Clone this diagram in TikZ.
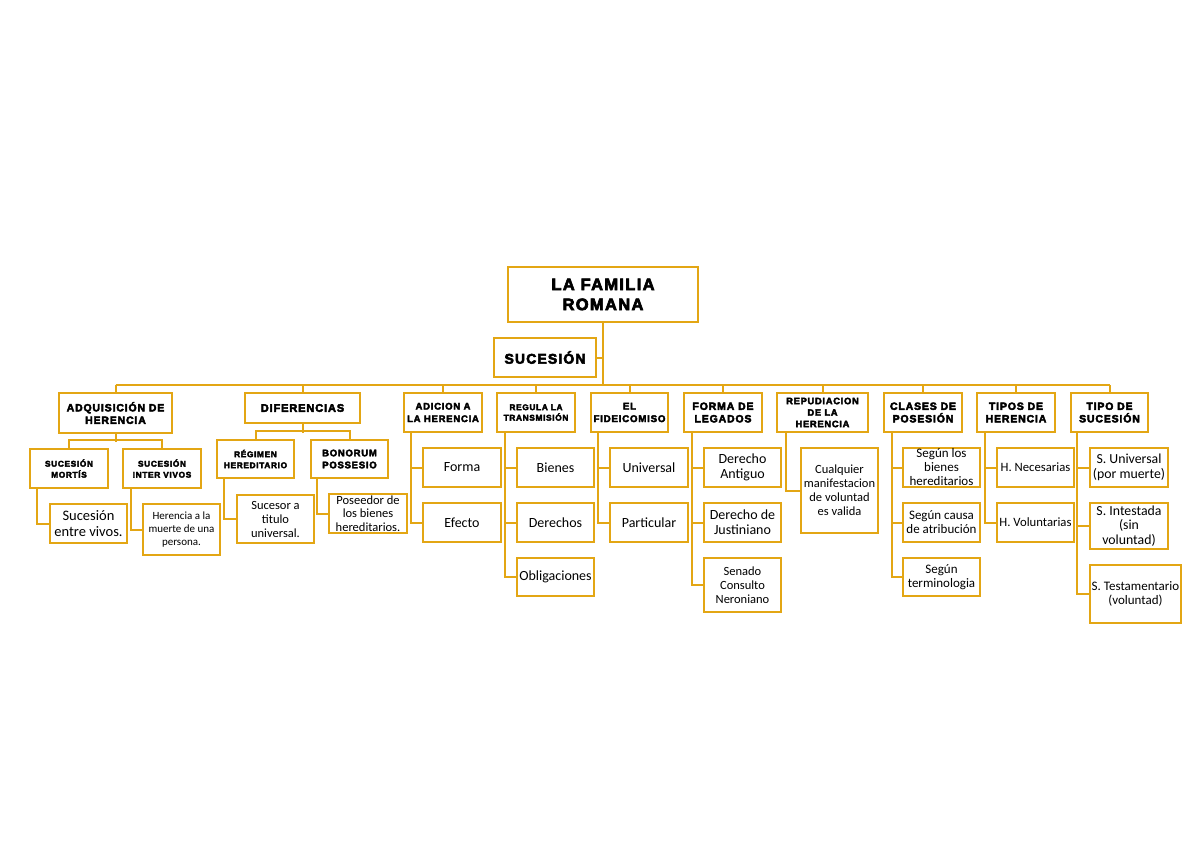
\documentclass[tikz,border=0pt]{standalone}
\usepackage{fontspec}
\setmainfont{Carlito}
\newfontfamily\hfont[LetterSpace=8, FakeBold=4]{Liberation Sans Bold}
\definecolor{gold}{RGB}{227,166,20}
\tikzset{
  box/.style={draw=gold, line width=1.8pt, fill=white, align=center, inner sep=1pt, text=black},
  hd/.style={box, font=\hfont\fontsize{10.5}{12.5}\selectfont},
  bd/.style={box, font=\fontsize{14}{15}\selectfont},
  conn/.style={draw=gold, line width=2pt},
}
\begin{document}
\begin{tikzpicture}[x=1pt,y=-1pt]
\useasboundingbox[fill=white] (0,0) rectangle (1200,849);
% level 0/1
\node[hd, font=\hfont\fontsize{16.5}{20}\selectfont, minimum width=190, minimum height=55] (top) at (603,294.5) {LA FAMILIA\\ROMANA};
\node[hd, font=\hfont\fontsize{14}{17}\selectfont, minimum width=102, minimum height=39] (suc) at (545,357.5) {SUCESIÓN};
\coordinate (bus) at (0,385);
% level 2
\node[hd, minimum width=113, minimum height=40] (adq) at (115.5,413) {ADQUISICIÓN DE\\HERENCIA};
\node[hd, font=\hfont\fontsize{11}{12.5}\selectfont, minimum width=115, minimum height=30] (dif) at (302.5,408) {DIFERENCIAS};
\node[hd, font=\hfont\fontsize{9.5}{12.5}\selectfont, minimum width=78, minimum height=39] (adi) at (443,412.5) {ADICION A\\LA HERENCIA};
\node[hd, font=\hfont\fontsize{8.3}{10.5}\selectfont, minimum width=78, minimum height=39] (reg) at (536,412.5) {REGULA LA\\TRANSMISIÓN};
\node[hd, font=\hfont\fontsize{9.7}{12.5}\selectfont, minimum width=77, minimum height=39] (fid) at (629.5,412.5) {EL\\FIDEICOMISO};
\node[hd, minimum width=78, minimum height=39] (leg) at (723,412.5) {FORMA DE\\LEGADOS};
\node[hd, font=\hfont\fontsize{9.3}{11.5}\selectfont, minimum width=91, minimum height=39] (rep) at (822.5,412.5) {REPUDIACION\\DE LA\\HERENCIA};
\node[hd, minimum width=78, minimum height=39] (cla) at (923,412.5) {CLASES DE\\POSESIÓN};
\node[hd, minimum width=78, minimum height=39] (tip) at (1016,412.5) {TIPOS DE\\HERENCIA};
\node[hd, minimum width=77, minimum height=39] (tsu) at (1109.5,412.5) {TIPO DE\\SUCESIÓN};
% level 3 - adquisicion
\node[hd, font=\hfont\fontsize{8.3}{11}\selectfont, minimum width=78, minimum height=39] (mor) at (69,468.5) {SUCESIÓN\\MORTÍS};
\node[hd, font=\hfont\fontsize{8.3}{11}\selectfont, minimum width=78, minimum height=39] (int) at (162,468.5) {SUCESIÓN\\INTER VIVOS};
\node[bd, font=\fontsize{14.5}{15.5}\selectfont, minimum width=77, minimum height=39] (env) at (88.5,523.5) {Sucesión\\entre vivos.};
\node[bd, font=\fontsize{11}{13}\selectfont, minimum width=77, minimum height=51] (hmp) at (181.5,529.5) {Herencia a la\\muerte de una\\persona.};
% diferencias
\node[hd, font=\hfont\fontsize{8.3}{11}\selectfont, minimum width=77, minimum height=38] (reh) at (255.5,459) {RÉGIMEN\\HEREDITARIO};
\node[hd, font=\hfont\fontsize{9.5}{12}\selectfont, minimum width=77, minimum height=38] (bon) at (349.5,459) {BONORUM\\POSSESIO};
\node[bd, font=\fontsize{12.5}{14}\selectfont, minimum width=77, minimum height=48] (stu) at (275.5,519) {Sucesor a\\titulo\\universal.};
\node[bd, font=\fontsize{12.5}{13.5}\selectfont, minimum width=78, minimum height=39, inner sep=0pt] (pos) at (368,513.5) {Poseedor de\\los bienes\\hereditarios.};
% adicion
\node[bd, minimum width=78, minimum height=39] (adiA) at (462,467.5) {Forma};
\node[bd, minimum width=78, minimum height=39] (adiB) at (462,522.5) {Efecto};
% regula
\node[bd, minimum width=77, minimum height=39] (regA) at (555.5,467.5) {Bienes};
\node[bd, minimum width=77, minimum height=39] (regB) at (555.5,522.5) {Derechos};
\node[bd, minimum width=77, minimum height=38, inner sep=0pt] (regC) at (555.5,577) {Obligaciones};
% fideicomiso
\node[bd, minimum width=78, minimum height=39] (fidA) at (649,467.5) {Universal};
\node[bd, minimum width=78, minimum height=39] (fidB) at (649,522.5) {Particular};
% legados
\node[bd, minimum width=77, minimum height=39] (legA) at (742.5,467.5) {Derecho\\Antiguo};
\node[bd, minimum width=77, minimum height=39] (legB) at (742.5,522.5) {Derecho de\\Justiniano};
\node[bd, font=\fontsize{12.5}{14}\selectfont, minimum width=77, minimum height=54] (legC) at (742.5,585) {Senado\\Consulto\\Neroniano};
% repudiacion
\node[bd, font=\fontsize{12.5}{14}\selectfont, minimum width=77, minimum height=85] (repA) at (839.5,490.5) {Cualquier\\manifestacion\\de voluntad\\es valida};
% clases
\node[bd, font=\fontsize{13}{14}\selectfont, minimum width=77, minimum height=39, inner sep=0pt] (claA) at (941.5,467.5) {Según los\\bienes\\hereditarios};
\node[bd, font=\fontsize{13}{14}\selectfont, minimum width=77, minimum height=39, inner sep=0pt] (claB) at (941.5,522.5) {Según causa\\de atribución};
\node[bd, font=\fontsize{13}{14}\selectfont, minimum width=77, minimum height=38] (claC) at (941.5,577) {Según\\terminologia};
% tipos de herencia
\node[bd, font=\fontsize{12.7}{14}\selectfont, minimum width=77, minimum height=39, inner sep=0pt] (tipA) at (1035.5,467.5) {H. Necesarias};
\node[bd, font=\fontsize{12.7}{14}\selectfont, minimum width=77, minimum height=39, inner sep=0pt] (tipB) at (1035.5,522.5) {H. Voluntarias};
% tipo de sucesion
\node[bd, font=\fontsize{13.8}{14.5}\selectfont, minimum width=78, minimum height=39, inner sep=0pt] (tsuA) at (1129,467.5) {S. Universal\\(por muerte)};
\node[bd, font=\fontsize{13.8}{14.5}\selectfont, minimum width=78, minimum height=46, inner sep=0pt] (tsuB) at (1129,526) {S. Intestada\\(sin\\voluntad)};
\node[bd, font=\fontsize{13}{14.5}\selectfont, minimum width=91, minimum height=58, inner sep=0pt] (tsuC) at (1135.5,594) {S. Testamentario\\(voluntad)};
% connectors
\draw[conn] (top.south) -- (top.south |- bus);
\draw[conn] (suc.east) -- (suc.east -| top.south);
\draw[conn] (adq.north |- bus) -- (tsu.north |- bus);
\foreach \n in {adq,dif,adi,reg,fid,leg,rep,cla,tip,tsu}{
  \draw[conn] (\n.north) -- (\n.north |- bus);
}
\draw[conn] (adq.south) -- ++(0,8);
\draw[conn] (mor.north) -- ++(0,-8) -| (int.north);
\draw[conn] (dif.south) -- ++(0,9);
\draw[conn] (reh.north) -- ++(0,-8) -| (bon.north);
\draw[conn] ([xshift=8]mor.south west) |- (env.west);
\draw[conn] ([xshift=9]int.south west) |- (hmp.west);
\draw[conn] ([xshift=8]reh.south west) |- (stu.west);
\draw[conn] ([xshift=7]bon.south west) |- (pos.west);
% vertical lists
\draw[conn] ([xshift=8]adi.south west) |- (adiB.west);
\draw[conn] ([xshift=8]adi.south west |- adiA.west) -- (adiA.west);
\draw[conn] ([xshift=9]reg.south west) |- (regC.west);
\draw[conn] ([xshift=9]reg.south west |- regA.west) -- (regA.west);
\draw[conn] ([xshift=9]reg.south west |- regB.west) -- (regB.west);
\draw[conn] ([xshift=8]fid.south west) |- (fidB.west);
\draw[conn] ([xshift=8]fid.south west |- fidA.west) -- (fidA.west);
\draw[conn] ([xshift=9]leg.south west) |- (legC.west);
\draw[conn] ([xshift=9]leg.south west |- legA.west) -- (legA.west);
\draw[conn] ([xshift=9]leg.south west |- legB.west) -- (legB.west);
\draw[conn] ([xshift=10]rep.south west) |- (repA.west);
\draw[conn] ([xshift=9]cla.south west) |- (claC.west);
\draw[conn] ([xshift=9]cla.south west |- claA.west) -- (claA.west);
\draw[conn] ([xshift=9]cla.south west |- claB.west) -- (claB.west);
\draw[conn] ([xshift=9]tip.south west) |- (tipB.west);
\draw[conn] ([xshift=9]tip.south west |- tipA.west) -- (tipA.west);
\draw[conn] ([xshift=7]tsu.south west) |- (tsuC.west);
\draw[conn] ([xshift=7]tsu.south west |- tsuA.west) -- (tsuA.west);
\draw[conn] ([xshift=7]tsu.south west |- tsuB.west) -- (tsuB.west);
\end{tikzpicture}
\end{document}
